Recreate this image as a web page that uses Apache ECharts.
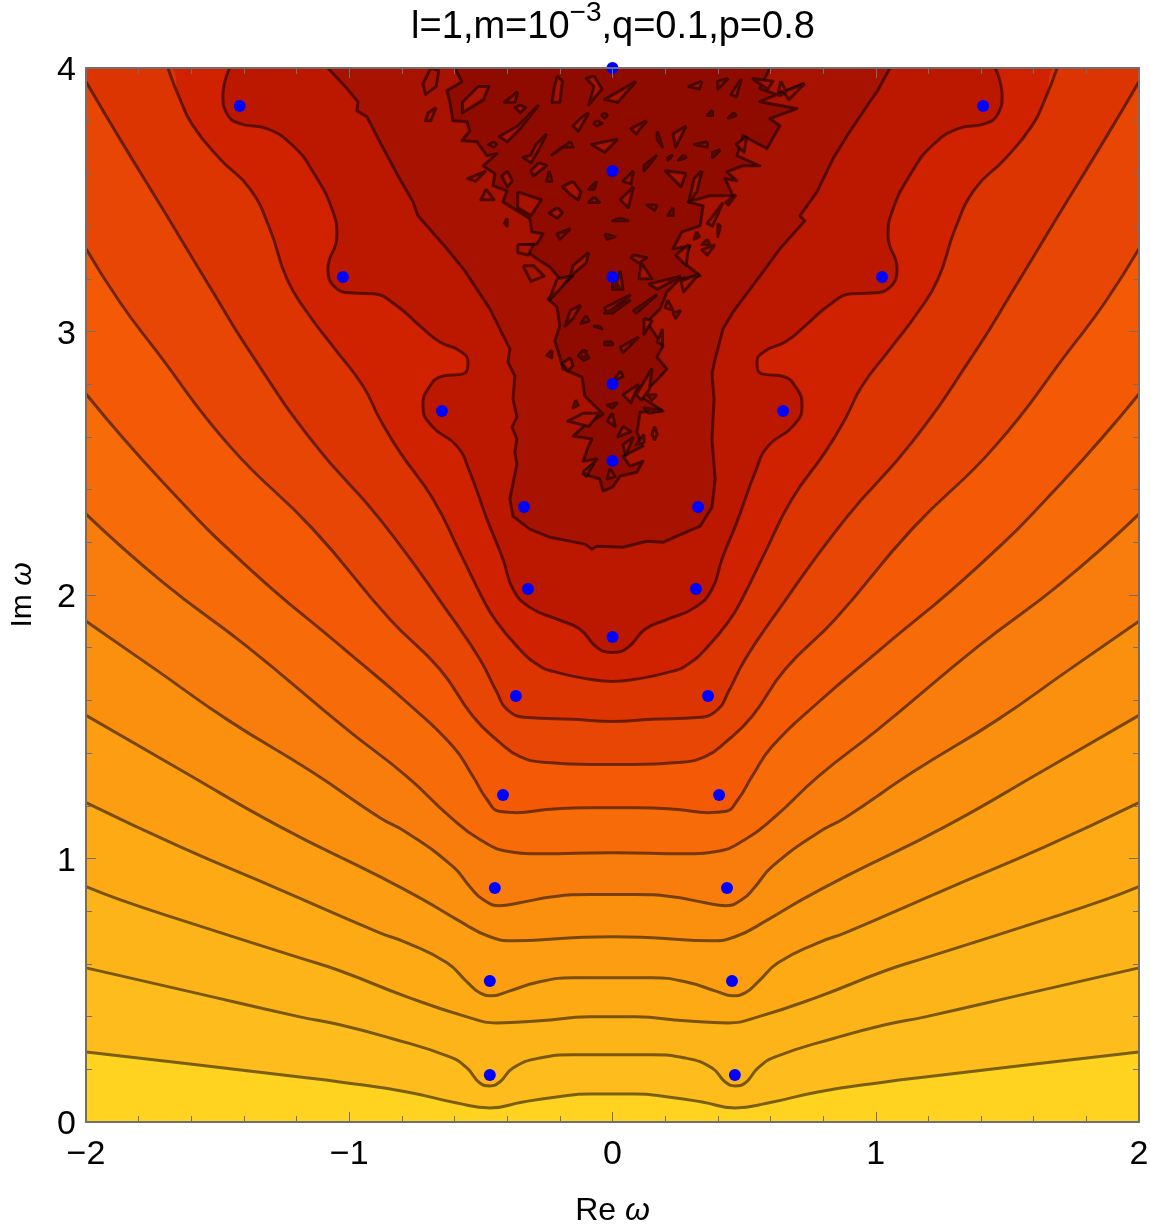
<!DOCTYPE html>
<html>
<head>
<meta charset="utf-8">
<style>html,body{margin:0;padding:0;background:#fff}#main{width:1151px;height:1227px}</style>
<script src="https://cdn.jsdelivr.net/npm/echarts@6/dist/echarts.min.js"></script>
</head>
<body>
<div id="main"></div>
<script>
// contour lines, [Re, Im], left half only for the symmetric ones
const c1 = [[-2,.266],[-1.605,.22],[-1.188,.171],[-1.036,.152],[-.781,.114],[-.591,.072],[-.466,.053],[-.34,.076],[-.211,.095],[-.086,.106],[0,.106]]
const c2 = [[-2,.585],[-1.594,.492],[-1.188,.399],[-1.036,.369],[-.846,.319],[-.618,.247],[-.553,.205],[-.504,.148],[-.466,.137],[-.428,.152],[-.378,.205],[-.276,.243],[-.15,.255],[0,.255]]
const c3 = [[-2,.893],[-1.872,.844],[-1.644,.768],[-1.188,.623],[-1.036,.574],[-.781,.475],[-.553,.399],[-.439,.376],[-.276,.384],[-.086,.399],[0,.399]]
const c4 = [[-2,1.212],[-1.644,1.045],[-1.264,.882],[-.884,.718],[-.781,.68],[-.629,.604],[-.553,.532],[-.504,.49],[-.454,.479],[-.401,.494],[-.276,.532],[-.15,.547],[0,.547]]
const c5 = [[-2,1.543],[-1.644,1.338],[-1.264,1.121],[-.884,.931],[-.72,.844],[-.591,.768],[-.466,.703],[-.378,.688],[-.15,.699],[0,.703]]
const c6 = [[-2,1.9],[-1.731,1.714],[-1.465,1.528],[-1.138,1.326],[-.884,1.155],[-.781,1.098],[-.606,.969],[-.542,.893],[-.492,.844],[-.428,.821],[-.352,.832],[-.226,.855],[-.086,.863],[0,.863]]
const c7 = [[-2,2.307],[-1.708,2.048],[-1.389,1.805],[-1.009,1.49],[-.781,1.311],[-.618,1.159],[-.504,1.072],[-.39,1.026],[-.276,1.018],[0,1.022]]
const c8 = [[-2,2.763],[-1.708,2.428],[-1.389,2.109],[-1.009,1.786],[-.781,1.592],[-.606,1.425],[-.53,1.311],[-.477,1.224],[-.428,1.178],[-.363,1.174],[-.249,1.186],[-.086,1.193],[0,1.193]]
const c9 = [[-2,3.314],[-1.872,3.112],[-1.739,2.934],[-1.454,2.565],[-1.138,2.25],[-.846,1.908],[-.656,1.718],[-.53,1.539],[-.428,1.44],[-.352,1.387],[-.249,1.364],[-.086,1.357],[0,1.357]]
const c10 = [[-2,3.948],[-1.872,3.732],[-1.693,3.439],[-1.518,3.15],[-1.385,2.934],[-1.138,2.58],[-.884,2.288],[-.606,1.908],[-.504,1.756],[-.439,1.63],[-.401,1.566],[-.325,1.535],[-.15,1.528],[0,1.52]]
const c11 = [[-1.689,4],[-1.644,3.884],[-1.594,3.781],[-1.492,3.656],[-1.378,3.542],[-1.302,3.39],[-1.237,3.2],[-1.161,3.074],[-1.055,2.934],[-.948,2.793],[-.884,2.668],[-.808,2.542],[-.682,2.364],[-.58,2.162],[-.492,1.984],[-.447,1.908],[-.363,1.805],[-.287,1.737],[-.226,1.71],[-.086,1.68],[0,1.672]]
const c12 = [[-1.454,4],[-1.48,3.895],[-1.465,3.827],[-1.416,3.789],[-1.313,3.77],[-1.214,3.705],[-1.138,3.606],[-1.062,3.454],[-1.047,3.363],[-1.081,3.238],[-1.047,3.162],[-.986,3.146],[-.91,3.143],[-.819,3.097],[-.732,3.021],[-.656,2.96],[-.58,2.926],[-.549,2.884],[-.568,2.839],[-.644,2.831],[-.701,2.782],[-.72,2.717],[-.686,2.641],[-.591,2.565],[-.542,2.466],[-.477,2.288],[-.416,2.136],[-.378,2.022],[-.314,1.953],[-.211,1.908],[-.124,1.87],[-.059,1.801],[0,1.782]]
// the two jagged ones are not symmetric, read in full
const c13 = [[-1.081,4],[-1.009,3.922],[-.967,3.872],[-.971,3.838],[-.933,3.815],[-.884,3.72],[-.815,3.591],[-.758,3.492],[-.739,3.439],[-.629,3.314],[-.561,3.23],[-.466,3.086],[-.428,3.01],[-.39,2.934],[-.397,2.884],[-.371,2.831],[-.378,2.744],[-.363,2.675],[-.382,2.637],[-.363,2.592],[-.371,2.542],[-.363,2.497],[-.39,2.364],[-.378,2.299],[-.314,2.25],[-.238,2.219],[-.105,2.193],[-.078,2.174],[-.059,2.185],[.04,2.181],[.131,2.204],[.192,2.2],[.245,2.223],[.333,2.261],[.378,2.333],[.39,2.44],[.378,2.592],[.386,2.744],[.378,2.839],[.39,2.896],[.42,3.01],[.458,3.074],[.572,3.226],[.636,3.314],[.731,3.42],[.712,3.439],[.777,3.53],[.838,3.656],[.891,3.743],[.978,3.872],[1.005,3.91],[1.054,4]]
const c14 = [[-.599,4],[-.572,3.948],[-.629,3.914],[-.618,3.872],[-.606,3.8],[-.553,3.796],[-.542,3.762],[-.572,3.724],[-.515,3.72],[-.477,3.667],[-.439,3.675],[-.492,3.629],[-.447,3.599],[-.454,3.553],[-.401,3.534],[-.416,3.492],[-.314,3.428],[-.306,3.378],[-.264,3.371],[-.287,3.333],[-.352,3.325],[-.287,3.276],[-.238,3.245],[-.2,3.2],[-.15,3.211],[-.245,3.124],[-.211,3.093],[-.2,3.021],[-.219,2.964],[-.2,2.903],[-.188,2.858],[-.116,2.827],[-.105,2.755],[-.036,2.687],[-.112,2.637],[-.15,2.603],[-.078,2.592],[-.093,2.561],[-.112,2.508],[-.059,2.516],[-.112,2.459],[-.048,2.44],[-.036,2.394],[0,2.409],[.029,2.451],[.093,2.466],[.116,2.508],[.067,2.489],[.04,2.527],[.116,2.565],[.093,2.618],[.105,2.694],[.192,2.698],[.105,2.755],[.173,2.82],[.207,2.858],[.169,2.903],[.192,2.945],[.131,3.036],[.181,3.086],[.207,3.15],[.257,3.2],[.333,3.211],[.268,3.264],[.295,3.325],[.23,3.314],[.264,3.378],[.333,3.401],[.344,3.477],[.287,3.492],[.371,3.515],[.458,3.515],[.428,3.58],[.473,3.572],[.435,3.606],[.496,3.629],[.56,3.629],[.473,3.667],[.496,3.743],[.587,3.694],[.636,3.781],[.598,3.808],[.701,3.846],[.56,3.872],[.724,3.941],[.636,3.895],[.56,3.922],[.598,4]]

// small closed contours in the noisy part at the top
const islands = [
[[-.69,4],[-.66,3.99],[-.67,3.93],[-.71,3.9],[-.72,3.94]],[[-.67,3.85],[-.69,3.8],[-.71,3.8],[-.7,3.83]],
[[-.51,3.93],[-.47,3.93],[-.49,3.88],[-.57,3.83],[-.57,3.87]],[[-.36,3.91],[-.37,3.87],[-.41,3.87]],
[[-.28,3.86],[-.35,3.77],[-.4,3.72],[-.43,3.74],[-.36,3.78]],[[-.35,3.86],[-.33,3.85],[-.35,3.83],[-.37,3.85]],
[[-.25,3.75],[-.28,3.69],[-.31,3.64],[-.34,3.66],[-.31,3.67],[-.29,3.71]],[[-.09,3.83],[-.13,3.76],[-.15,3.78],[-.12,3.81]],
[[-.21,3.97],[-.19,3.95],[-.2,3.87],[-.23,3.87],[-.22,3.93]],[[-.07,3.97],[-.04,3.92],[-.09,3.86],[-.07,3.93],[-.1,3.96]],
[[.09,3.95],[.02,3.87],[-.03,3.88]],[[.02,3.73],[-.03,3.68],[-.08,3.71]],
[[-.03,3.83],[-.02,3.82],[-.03,3.81],[-.04,3.82]],[[-.06,3.8],[-.04,3.79],[-.06,3.78],[-.07,3.79]],
[[-.16,3.72],[-.15,3.7],[-.19,3.7],[-.23,3.67]],[[-.45,3.72],[-.44,3.71],[-.45,3.7],[-.47,3.71]],
[[-.28,3.64],[-.25,3.63],[-.3,3.59],[-.31,3.61]],[[-.48,3.61],[-.52,3.57],[-.55,3.58]],
[[-.4,3.61],[-.38,3.57],[-.4,3.55],[-.42,3.59]],[[-.24,3.61],[-.23,3.57],[-.25,3.57]],
[[-.15,3.57],[-.12,3.53],[-.13,3.5],[-.16,3.52],[-.19,3.55]],[[-.06,3.57],[-.07,3.54],[-.09,3.54]],
[[-.48,3.54],[-.45,3.5],[-.5,3.5]],[[-.36,3.53],[-.27,3.5],[-.31,3.44],[-.36,3.47]],
[[-.21,3.47],[-.19,3.45],[-.21,3.43],[-.24,3.45]],[[-.4,3.43],[-.4,3.4],[-.41,3.41]],
[[-.16,3.39],[-.2,3.35],[-.21,3.37]],[[-.07,3.51],[-.05,3.49],[-.09,3.49]],
[[.03,3.43],[.06,3.42],[0,3.42]],[[-.03,3.37],[.01,3.36],[-.02,3.35]],
[[-.36,3.33],[-.3,3.33],[-.32,3.29],[-.36,3.3]],[[-.34,3.25],[-.3,3.25],[-.26,3.21],[-.31,3.19]],
[[-.09,3.3],[-.1,3.26],[-.16,3.21],[-.15,3.25]],[[0,3.21],[.03,3.16],[0,3.16]],
[[-.21,3.2],[-.16,3.21],[-.2,3.16],[-.24,3.12]],[[.07,3.12],[0,3.07],[-.03,3.07]],
[[-.12,3.1],[-.15,3.05],[-.18,3.02],[-.16,3.08]],[[-.1,3.06],[-.09,3.04],[-.12,3.03]],
[[-.05,3.02],[-.04,3.01],[-.07,3.02]],[[0,2.96],[0,2.95],[-.03,2.95],[-.03,2.96]],
[[-.1,2.93],[-.1,2.9],[-.13,2.91]],[[.34,3.95],[.33,3.92],[.29,3.93]],
[[.44,3.96],[.4,3.92],[.4,3.95]],[[.49,3.96],[.47,3.89],[.45,3.9]],
[[.73,3.94],[.67,3.88],[.65,3.91]],[[.64,3.95],[.66,3.91],[.63,3.91]],
[[.53,3.96],[.61,3.95],[.59,3.92]],[[.46,3.83],[.47,3.82],[.44,3.81]],
[[.38,3.84],[.38,3.82],[.36,3.82]],[[.13,3.8],[.09,3.75],[.07,3.77]],
[[.28,3.78],[.24,3.7],[.23,3.75]],[[.17,3.76],[.19,3.7],[.17,3.73]],
[[.51,3.74],[.5,3.68],[.47,3.71]],[[.36,3.72],[.36,3.7],[.31,3.71]],
[[.41,3.69],[.38,3.66],[.38,3.68]],[[.17,3.67],[.12,3.61],[.12,3.63]],
[[.23,3.67],[.21,3.65],[.21,3.66]],[[.27,3.67],[.28,3.66],[.25,3.65]],
[[.08,3.61],[.07,3.56],[.04,3.57]],[[.34,3.61],[.32,3.53],[.29,3.49],[.31,3.58]],
[[.28,3.6],[.26,3.55],[.2,3.61]],[[.08,3.55],[.06,3.47],[.03,3.5]],
[[.17,3.48],[.16,3.46],[.13,3.48]],[[.23,3.47],[.23,3.44],[.21,3.44]],
[[.42,3.49],[.38,3.4],[.36,3.41]],[[.47,3.52],[.44,3.48],[.43,3.49]],
[[.4,3.41],[.41,3.4],[.4,3.36]],[[.32,3.38],[.33,3.36],[.31,3.35]],
[[.36,3.35],[.37,3.33],[.34,3.33]],[[.39,3.33],[.36,3.29],[.34,3.31]],
[[.29,3.33],[.28,3.25],[.24,3.29]],[[.08,3.29],[.13,3.28],[.1,3.26],[.07,3.28]],
[[.11,3.26],[.15,3.2],[.1,3.2]],[[.03,3.23],[.04,3.16],[.01,3.17]],
[[.33,3.22],[.27,3.15],[.26,3.19]],[[.26,3.21],[.17,3.16],[.14,3.18]],
[[.17,3.14],[.09,3.07],[.08,3.08]],[[.07,3.14],[-.02,3.07],[-.03,3.09]],
[[.21,3.12],[.23,3.08],[.2,3.09]],[[.26,3.08],[.24,3.05],[.23,3.07]],
[[.12,3.05],[.15,3.04],[.12,2.99]],[[.19,3.01],[.19,2.95],[.17,2.96]],
[[.1,2.98],[.04,2.92],[.03,2.94]],[[-.23,2.93],[-.23,2.9],[-.25,2.91]],
[[-.11,2.93],[-.09,2.9],[-.11,2.89],[-.13,2.91]],[[-.16,2.9],[-.15,2.87],[-.17,2.85],[-.19,2.88]],
[[.03,2.85],[.04,2.83],[0,2.81]],[[.1,2.8],[.07,2.73],[.04,2.76]],
[[.15,2.86],[.14,2.78],[.11,2.74],[.09,2.76]],[[.17,2.76],[.15,2.74],[.13,2.76]],
[[.19,2.7],[.14,2.69],[.12,2.71]],[[.02,2.73],[0,2.71],[-.02,2.72]],
[[0,2.69],[.01,2.64],[-.02,2.66]],[[-.14,2.74],[-.13,2.72],[-.15,2.71]],
[[-.05,2.69],[-.09,2.64],[-.17,2.66],[-.11,2.69]],[[.04,2.64],[.07,2.62],[.02,2.6]],
[[.16,2.64],[.17,2.61],[.16,2.59],[.15,2.61]],[[.08,2.6],[.05,2.53],[.04,2.57]],
[[.12,2.61],[.12,2.58],[.09,2.57]],[[-.01,2.48],[.01,2.45],[-.02,2.44]],
[[-.07,2.5],[-.1,2.45],[-.11,2.47]]
]

// blue points
const poles = [[0,4],[0,3.609],[0,3.207],[0,2.801],[0,2.509],[0,1.841],
  [-1.416,3.856],[1.408,3.856],[-1.024,3.207],[1.024,3.207],[-.648,2.698],[.648,2.698],
  [-.336,2.334],[.325,2.334],[-.321,2.023],[.317,2.023],[-.367,1.617],[.363,1.617],
  [-.416,1.241],[.405,1.241],[-.447,.888],[.435,.888],[-.466,.535],[.454,.535],[-.466,.178],[.465,.178]]

const xTickLabels = { '-2': '−2', '-1': '−1', 0: '0', 1: '1', 2: '2' }
const yTickLabels = ['0', '1', '2', '3', '4']

// colour below each contour, c1 first, and the colour inside c14
const bandColors = ['#FFD31F','#FEBD1C','#FDB418','#FDAA15','#FC9D12','#FB8F0E','#F97D0C','#F76B09','#F45A06','#E84604','#DC3501','#D02200','#BC1800','#A81200']
const innerColor = '#8F0B00'

const mirror = (half) => half.concat(half.slice(0, -1).reverse().map(([x, y]) => [-x, y]))

const contours = [c1, c2, c3, c4, c5, c6, c7, c8, c9, c10, c11, c12].map(mirror).concat([c13, c14])

const fontFamily = '"Liberation Sans", Arial, sans-serif'
const lineColor = 'rgba(0,0,0,0.52)'
const frameColor = '#6f6f6f'

// contours that end on the top edge get the top corners so the fill reaches the sides
const withCorners = (pts) => {
  if (pts[0][0] <= -2) return pts
  return [[-2, 4]].concat(pts, [[2, 4]])
}

const series = []
for (let i = contours.length - 1; i >= 0; i--) {
  series.push({
    type: 'line',
    data: withCorners(contours[i]),
    smooth: i >= 12 ? false : 0.5,
    showSymbol: false,
    silent: true,
    z: 2,
    lineStyle: { width: 0 },
    areaStyle: { color: bandColors[i], opacity: 1, origin: 'start' },
  })
}
contours.forEach((pts, i) => {
  series.push({
    type: 'line',
    data: pts,
    smooth: i >= 12 ? false : 0.5,
    showSymbol: false,
    silent: true,
    z: 3,
    lineStyle: { color: lineColor, width: 3, join: 'round' },
  })
})

// closed islands go in one series, split by gaps
const islandData = []
islands.forEach((loop) => {
  loop.forEach((p) => islandData.push(p))
  islandData.push(loop[0])
  islandData.push(['-', '-'])
})
series.push({
  type: 'line',
  data: islandData,
  showSymbol: false,
  silent: true,
  z: 4,
  connectNulls: false,
  lineStyle: { color: lineColor, width: 3, join: 'round' },
  areaStyle: { color: bandColors[13], opacity: 1, origin: 'start' },
})
series.push({
  type: 'scatter',
  data: poles,
  symbolSize: 12,
  silent: true,
  z: 5,
  clip: true,
  itemStyle: { color: '#0000FF', opacity: 1 },
})

const axisCommon = {
  type: 'value',
  z: 10,
  splitLine: { show: false },
  axisLine: { show: true, onZero: false, lineStyle: { color: frameColor, width: 2 } },
  axisTick: { show: true, inside: true, length: 10, lineStyle: { color: frameColor, width: 1 } },
  minorTick: { show: true, splitNumber: 5, length: 6, lineStyle: { color: frameColor, width: 1 } },
}

const chart = echarts.init(document.getElementById('main'), null, { renderer: 'canvas' })
chart.setOption({
  animation: false,
  backgroundColor: '#fff',
  title: {
    text: 'l=1,m=10{sup|−3},q=0.1,p=0.8',
    left: 613,
    textAlign: 'center',
    top: -1,
    padding: 0,
    textStyle: {
      fontFamily,
      fontSize: 38,
      fontWeight: 'normal',
      color: '#000',
      rich: { sup: { fontFamily, fontSize: 28, color: '#000', padding: [0, 0, 30, 0] } },
    },
  },
  grid: { left: 86, right: 12, top: 68, bottom: 105, show: true, backgroundColor: innerColor, borderWidth: 0, outerBoundsMode: 'none' },
  xAxis: [
    {
      ...axisCommon,
      position: 'bottom',
      min: -2,
      max: 2,
      interval: 1,
      name: 'Re {it|ω}',
      nameLocation: 'middle',
      nameGap: 73,
      nameTextStyle: { fontFamily, fontSize: 32, color: '#000', rich: { it: { fontFamily, fontSize: 32, fontStyle: 'italic', color: '#000' } } },
      axisLabel: { fontFamily, fontSize: 34, color: '#000', margin: 16, showMinLabel: true, showMaxLabel: true, hideOverlap: false, formatter: (v) => xTickLabels[v] },
    },
    { ...axisCommon, position: 'top', min: -2, max: 2, interval: 1, axisLabel: { show: false } },
  ],
  yAxis: [
    {
      ...axisCommon,
      position: 'left',
      min: 0,
      max: 4,
      interval: 1,
      name: 'Im {it|ω}',
      nameLocation: 'middle',
      nameGap: 48,
      nameRotate: 90,
      nameTextStyle: { fontFamily, fontSize: 30, color: '#000', rich: { it: { fontFamily, fontSize: 30, fontStyle: 'italic', color: '#000' } } },
      axisLabel: {
        margin: 10, showMinLabel: true, showMaxLabel: true, hideOverlap: false,
        formatter: (v) => '{n|' + yTickLabels[v] + '}',
        rich: { n: { fontFamily, fontSize: 34, color: '#000', padding: [6, 0, 0, 0] } },
      },
    },
    { ...axisCommon, position: 'right', min: 0, max: 4, interval: 1, axisLabel: { show: false } },
  ],
  series,
})
</script>
</body>
</html>
